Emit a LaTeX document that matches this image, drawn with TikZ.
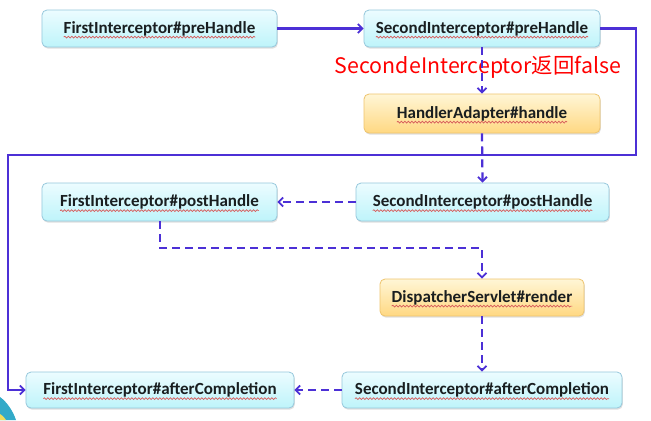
\documentclass[tikz,border=0pt]{standalone}
\usepackage{fontspec}
\setmainfont{Carlito}
\newfontfamily\cjkfont{Noto Sans CJK SC}
\usetikzlibrary{arrows.meta,shadows,decorations.pathmorphing,calc}
\definecolor{lineC}{RGB}{76,48,214}
\definecolor{cyanTop}{RGB}{236,252,255}
\definecolor{cyanBot}{RGB}{190,244,250}
\definecolor{cyanBorder}{RGB}{150,200,220}
\definecolor{orTop}{RGB}{255,246,214}
\definecolor{orBot}{RGB}{255,216,130}
\definecolor{orBorder}{RGB}{238,196,110}
\definecolor{txtC}{RGB}{25,30,32}
\definecolor{squig}{RGB}{215,90,90}
\definecolor{decoTeal}{RGB}{50,170,200}
\definecolor{decoYel}{RGB}{240,220,90}
\newcommand\boxfont{\bfseries\fontsize{17bp}{19bp}\selectfont}
\newcommand\sqbox[4]{%
  \node[#1] (#2) at #3 {#4};
  \coordinate (#2sqe) at ($(#2.text)!2!(#2.text -| #2.center)$);
  \draw[squig, line width=0.7bp, decorate, decoration={snake, amplitude=0.9bp, segment length=3.5bp}]
    ([yshift=-4bp]#2.text) -- ([yshift=-4bp]#2sqe);
}
\tikzset{
  box/.style={rounded corners=5bp, draw=cyanBorder, line width=0.8bp,
    top color=cyanTop, bottom color=cyanBot, inner sep=0pt,
    font=\boxfont, text=txtC,
    drop shadow={shadow xshift=0.8bp, shadow yshift=-1.6bp, opacity=0.25}},
  obox/.style={box, draw=orBorder, top color=orTop, bottom color=orBot},
  solidarrow/.style={draw=lineC, line width=2.2bp, -{Straight Barb[length=4.5bp,width=9bp,line width=1.8bp]}},
  dasharrow/.style={solidarrow, dash pattern=on 8bp off 5bp},
}
\begin{document}
\begin{tikzpicture}[x=1bp,y=-1bp]
\useasboundingbox (0,0) rectangle (651,420);
\fill[white] (0,0) rectangle (651,420);
% decorative corner
\fill[decoTeal] (0,420) -- (0,397) .. controls (7,402) and (13,411) .. (16,420) -- cycle;
\fill[decoYel] (0,420) -- (0,414) .. controls (3,416) and (5,418) .. (6,420) -- cycle;

\sqbox{box, minimum width=235bp, minimum height=37bp}{b1}{(159.5,28.5)}{FirstInterceptor\#preHandle}
\sqbox{box, minimum width=236bp, minimum height=37bp}{b2}{(482,28.5)}{SecondInterceptor\#preHandle}
\sqbox{obox, minimum width=236bp, minimum height=39bp}{b3}{(482,113.5)}{HandlerAdapter\#handle}
\sqbox{box, minimum width=235bp, minimum height=38bp}{b4}{(159.5,202)}{FirstInterceptor\#postHandle}
\sqbox{box, minimum width=253bp, minimum height=38bp}{b5}{(482.5,202)}{SecondInterceptor\#postHandle}
\sqbox{obox, minimum width=204bp, minimum height=37bp}{b6}{(482,297.5)}{DispatcherServlet\#render}
\sqbox{box, minimum width=268bp, minimum height=36bp}{b7}{(160,390)}{FirstInterceptor\#afterCompletion}
\sqbox{box, minimum width=280bp, minimum height=36bp}{b8}{(482,390)}{SecondInterceptor\#afterCompletion}

\node[text=red, inner sep=0pt] (lbl) at (478,67) {\resizebox{286bp}{!}{\cjkfont\fontsize{22bp}{24bp}\selectfont SecondeInterceptor返回false}};

% connectors
\coordinate (r1) at (636,28.5);
\coordinate (r2) at (636,155);
\coordinate (l1) at (8,155);
\coordinate (l2) at (8,390);
\coordinate (m1) at (160,248);
\coordinate (m2) at (482,248);
\draw[solidarrow] (b1.east) -- (b2.west);
\draw[dasharrow] (b2.south) -- (b3.north);
\draw[solidarrow] (b2.east) -- (r1) -- (r2) -- (l1) -- (l2) -- (b7.west);
\draw[dasharrow] (b3.south) -- (b5.north);
\draw[dasharrow] (b5.west) -- (b4.east);
\draw[dasharrow] (b4.south -| m1) -- (m1) -- (m2) -- (b6.north);
\draw[dasharrow] (b6.south) -- (b8.north);
\draw[dasharrow] (b8.west) -- (b7.east);
\end{tikzpicture}
\end{document}
